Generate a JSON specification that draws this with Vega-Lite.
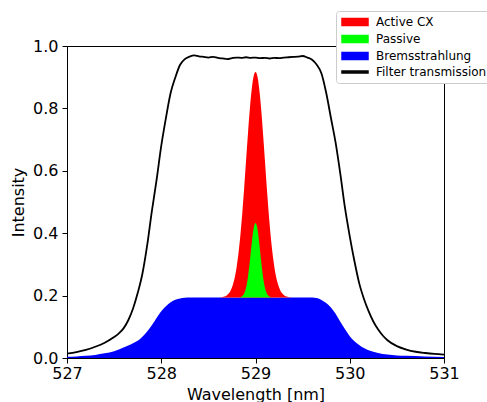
{
  "$schema": "https://vega.github.io/schema/vega-lite/v6.json",
  "width": 377,
  "height": 312,
  "autosize": {"type": "none"},
  "padding": {"left": 67, "top": 46, "right": 43, "bottom": 44},
  "background": "white",
  "config": {
    "font": "DejaVu Sans",
    "view": {"stroke": "black", "strokeWidth": 1},
    "axis": {
      "labelFont": "DejaVu Sans", "labelFontSize": 16, "labelColor": "black",
      "titleFont": "DejaVu Sans", "titleFontSize": 16, "titleFontWeight": "normal", "titleColor": "black",
      "tickColor": "black", "domainColor": "black", "tickSize": 5, "grid": false
    }
  },
  "datasets": {
    "filter": [
      {"wl": 527.0, "t": 0.014}, {"wl": 527.1, "t": 0.019}, {"wl": 527.2, "t": 0.026}, {"wl": 527.3, "t": 0.036},
      {"wl": 527.4, "t": 0.049}, {"wl": 527.5, "t": 0.067}, {"wl": 527.55, "t": 0.079}, {"wl": 527.6, "t": 0.095},
      {"wl": 527.65, "t": 0.121}, {"wl": 527.7, "t": 0.158}, {"wl": 527.75, "t": 0.208}, {"wl": 527.8, "t": 0.27},
      {"wl": 527.85, "t": 0.36}, {"wl": 527.9, "t": 0.47}, {"wl": 527.95, "t": 0.57}, {"wl": 528.0, "t": 0.68},
      {"wl": 528.05, "t": 0.77}, {"wl": 528.1, "t": 0.85}, {"wl": 528.15, "t": 0.90}, {"wl": 528.2, "t": 0.94},
      {"wl": 528.25, "t": 0.958}, {"wl": 528.3, "t": 0.966}, {"wl": 528.35, "t": 0.970}, {"wl": 528.4, "t": 0.967},
      {"wl": 528.45, "t": 0.965}, {"wl": 528.5, "t": 0.963}, {"wl": 528.55, "t": 0.965}, {"wl": 528.6, "t": 0.962},
      {"wl": 528.65, "t": 0.960}, {"wl": 528.7, "t": 0.958}, {"wl": 528.75, "t": 0.961}, {"wl": 528.8, "t": 0.963},
      {"wl": 528.85, "t": 0.962}, {"wl": 528.9, "t": 0.964}, {"wl": 528.95, "t": 0.962}, {"wl": 529.0, "t": 0.963},
      {"wl": 529.05, "t": 0.961}, {"wl": 529.1, "t": 0.962}, {"wl": 529.15, "t": 0.960}, {"wl": 529.2, "t": 0.962},
      {"wl": 529.25, "t": 0.961}, {"wl": 529.3, "t": 0.963}, {"wl": 529.35, "t": 0.964}, {"wl": 529.4, "t": 0.965},
      {"wl": 529.45, "t": 0.966}, {"wl": 529.5, "t": 0.968}, {"wl": 529.55, "t": 0.963}, {"wl": 529.6, "t": 0.956},
      {"wl": 529.65, "t": 0.940}, {"wl": 529.7, "t": 0.912}, {"wl": 529.75, "t": 0.85}, {"wl": 529.8, "t": 0.77},
      {"wl": 529.85, "t": 0.69}, {"wl": 529.9, "t": 0.59}, {"wl": 529.95, "t": 0.48}, {"wl": 530.0, "t": 0.39},
      {"wl": 530.05, "t": 0.31}, {"wl": 530.1, "t": 0.24}, {"wl": 530.15, "t": 0.19}, {"wl": 530.2, "t": 0.15},
      {"wl": 530.25, "t": 0.117}, {"wl": 530.3, "t": 0.092}, {"wl": 530.35, "t": 0.072}, {"wl": 530.4, "t": 0.057},
      {"wl": 530.5, "t": 0.038}, {"wl": 530.6, "t": 0.027}, {"wl": 530.7, "t": 0.020}, {"wl": 530.8, "t": 0.016},
      {"wl": 530.9, "t": 0.013}, {"wl": 531.0, "t": 0.011}
    ],
    "brems": [
      {"wl": 527.0, "v": 0.004}, {"wl": 527.1, "v": 0.005}, {"wl": 527.2, "v": 0.007}, {"wl": 527.3, "v": 0.010},
      {"wl": 527.4, "v": 0.015}, {"wl": 527.5, "v": 0.022}, {"wl": 527.6, "v": 0.034}, {"wl": 527.65, "v": 0.040},
      {"wl": 527.7, "v": 0.047}, {"wl": 527.75, "v": 0.055}, {"wl": 527.8, "v": 0.068}, {"wl": 527.85, "v": 0.085},
      {"wl": 527.9, "v": 0.105}, {"wl": 527.95, "v": 0.128}, {"wl": 528.0, "v": 0.150}, {"wl": 528.05, "v": 0.166},
      {"wl": 528.1, "v": 0.179}, {"wl": 528.15, "v": 0.187}, {"wl": 528.2, "v": 0.191}, {"wl": 528.25, "v": 0.193},
      {"wl": 528.3, "v": 0.194}, {"wl": 528.8, "v": 0.194}, {"wl": 529.2, "v": 0.194}, {"wl": 529.6, "v": 0.194},
      {"wl": 529.65, "v": 0.192}, {"wl": 529.7, "v": 0.186}, {"wl": 529.75, "v": 0.176}, {"wl": 529.8, "v": 0.162},
      {"wl": 529.85, "v": 0.142}, {"wl": 529.9, "v": 0.116}, {"wl": 529.95, "v": 0.092}, {"wl": 530.0, "v": 0.070},
      {"wl": 530.05, "v": 0.054}, {"wl": 530.1, "v": 0.042}, {"wl": 530.15, "v": 0.032}, {"wl": 530.2, "v": 0.025},
      {"wl": 530.3, "v": 0.016}, {"wl": 530.4, "v": 0.011}, {"wl": 530.5, "v": 0.008}, {"wl": 530.6, "v": 0.007},
      {"wl": 530.8, "v": 0.005}, {"wl": 531.0, "v": 0.003}
    ],
    "cx": [
      {"wl": 528.6, "lo": 0.194, "hi": 0.194}, {"wl": 528.64, "lo": 0.194, "hi": 0.195}, {"wl": 528.66, "lo": 0.194, "hi": 0.196},
      {"wl": 528.68, "lo": 0.194, "hi": 0.198}, {"wl": 528.70, "lo": 0.194, "hi": 0.202}, {"wl": 528.72, "lo": 0.194, "hi": 0.208},
      {"wl": 528.74, "lo": 0.194, "hi": 0.219}, {"wl": 528.76, "lo": 0.194, "hi": 0.235}, {"wl": 528.78, "lo": 0.194, "hi": 0.258},
      {"wl": 528.80, "lo": 0.194, "hi": 0.292}, {"wl": 528.82, "lo": 0.194, "hi": 0.337}, {"wl": 528.84, "lo": 0.194, "hi": 0.395},
      {"wl": 528.86, "lo": 0.194, "hi": 0.465}, {"wl": 528.88, "lo": 0.194, "hi": 0.546}, {"wl": 528.90, "lo": 0.194, "hi": 0.633},
      {"wl": 528.92, "lo": 0.194, "hi": 0.719}, {"wl": 528.94, "lo": 0.194, "hi": 0.798}, {"wl": 528.96, "lo": 0.194, "hi": 0.861},
      {"wl": 528.98, "lo": 0.194, "hi": 0.903}, {"wl": 529.00, "lo": 0.194, "hi": 0.917}, {"wl": 529.02, "lo": 0.194, "hi": 0.903},
      {"wl": 529.04, "lo": 0.194, "hi": 0.861}, {"wl": 529.06, "lo": 0.194, "hi": 0.798}, {"wl": 529.08, "lo": 0.194, "hi": 0.719},
      {"wl": 529.10, "lo": 0.194, "hi": 0.633}, {"wl": 529.12, "lo": 0.194, "hi": 0.546}, {"wl": 529.14, "lo": 0.194, "hi": 0.465},
      {"wl": 529.16, "lo": 0.194, "hi": 0.395}, {"wl": 529.18, "lo": 0.194, "hi": 0.337}, {"wl": 529.20, "lo": 0.194, "hi": 0.292},
      {"wl": 529.22, "lo": 0.194, "hi": 0.258}, {"wl": 529.24, "lo": 0.194, "hi": 0.235}, {"wl": 529.26, "lo": 0.194, "hi": 0.219},
      {"wl": 529.28, "lo": 0.194, "hi": 0.208}, {"wl": 529.30, "lo": 0.194, "hi": 0.202}, {"wl": 529.32, "lo": 0.194, "hi": 0.198},
      {"wl": 529.34, "lo": 0.194, "hi": 0.196}, {"wl": 529.36, "lo": 0.194, "hi": 0.195}, {"wl": 529.40, "lo": 0.194, "hi": 0.194}
    ],
    "passive": [
      {"wl": 528.82, "lo": 0.194, "hi": 0.194}, {"wl": 528.84, "lo": 0.194, "hi": 0.195}, {"wl": 528.86, "lo": 0.194, "hi": 0.199},
      {"wl": 528.88, "lo": 0.194, "hi": 0.207}, {"wl": 528.90, "lo": 0.194, "hi": 0.226}, {"wl": 528.92, "lo": 0.194, "hi": 0.260},
      {"wl": 528.94, "lo": 0.194, "hi": 0.310}, {"wl": 528.96, "lo": 0.194, "hi": 0.368}, {"wl": 528.98, "lo": 0.194, "hi": 0.415},
      {"wl": 529.00, "lo": 0.194, "hi": 0.433}, {"wl": 529.02, "lo": 0.194, "hi": 0.415}, {"wl": 529.04, "lo": 0.194, "hi": 0.368},
      {"wl": 529.06, "lo": 0.194, "hi": 0.310}, {"wl": 529.08, "lo": 0.194, "hi": 0.260}, {"wl": 529.10, "lo": 0.194, "hi": 0.226},
      {"wl": 529.12, "lo": 0.194, "hi": 0.207}, {"wl": 529.14, "lo": 0.194, "hi": 0.199}, {"wl": 529.16, "lo": 0.194, "hi": 0.195},
      {"wl": 529.18, "lo": 0.194, "hi": 0.194}
    ]
  },
  "encoding": {
    "x": {"field": "wl", "type": "quantitative",
      "scale": {"domain": [527, 531], "nice": false, "zero": false},
      "axis": {"title": "Wavelength [nm]", "values": [527, 528, 529, 530, 531], "format": "d", "labelFlush": false, "labelPadding": 2, "titlePadding": 5}},
    "color": {
      "scale": {"domain": ["Active CX", "Passive", "Bremsstrahlung", "Filter transmission"], "range": ["#ff0000", "#00ff00", "#0000ff", "#000000"]},
      "legend": {
        "title": null, "orient": "none", "legendX": 269, "legendY": -35,
        "fillColor": "white", "strokeColor": "#cccccc", "cornerRadius": 3, "padding": 5,
        "labelFont": "DejaVu Sans", "labelFontSize": 12, "labelColor": "black",
        "symbolSize": 100, "labelOffset": 23, "rowPadding": 3,
        "encode": {
          "symbols": {"update": {
            "shape": {"signal": "datum.value === 'Filter transmission' ? 'M-1,-0.18H4.2V0.18H-1Z' : 'M-1,-0.7H4.2V0.7H-1Z'"},
            "fill": {"scale": "color", "field": "value"},
            "stroke": {"value": "transparent"},
            "opacity": {"value": 1},
            "fillOpacity": {"value": 1}
          }}
        }
      }
    }
  },
  "layer": [
    {
      "data": {"name": "brems"},
      "mark": {"type": "area", "interpolate": "monotone", "opacity": 1},
      "encoding": {
        "y": {"field": "v", "type": "quantitative", "scale": {"domain": [0, 1], "nice": false},
          "axis": {"title": "Intensity", "values": [0, 0.2, 0.4, 0.6, 0.8, 1.0], "format": ".1f", "labelPadding": 4, "titlePadding": 6}},
        "color": {"datum": "Bremsstrahlung"}
      }
    },
    {
      "data": {"name": "cx"},
      "mark": {"type": "area", "interpolate": "monotone", "opacity": 1},
      "encoding": {
        "y": {"field": "hi", "type": "quantitative"},
        "y2": {"field": "lo"},
        "color": {"datum": "Active CX"}
      }
    },
    {
      "data": {"name": "passive"},
      "mark": {"type": "area", "interpolate": "monotone", "opacity": 1},
      "encoding": {
        "y": {"field": "hi", "type": "quantitative"},
        "y2": {"field": "lo"},
        "color": {"datum": "Passive"}
      }
    },
    {
      "data": {"name": "filter"},
      "mark": {"type": "line", "strokeWidth": 1.8, "interpolate": "monotone"},
      "encoding": {
        "y": {"field": "t", "type": "quantitative"},
        "color": {"datum": "Filter transmission"}
      }
    }
  ]
}
